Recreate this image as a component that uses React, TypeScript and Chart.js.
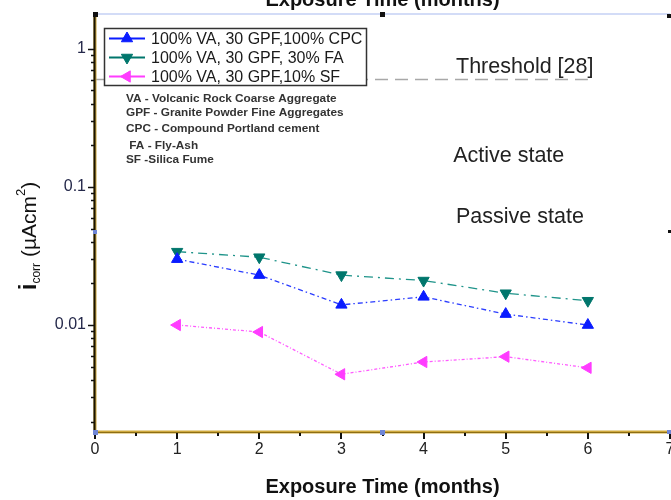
import React, { useEffect, useRef } from "react";
import { Chart, registerables } from "chart.js";

Chart.register(...registerables);

// ---- data ----
const months = [1, 2, 3, 4, 5, 6];
const cpcValues = [0.03, 0.023, 0.014, 0.016, 0.012, 0.01];
const faValues = [0.034, 0.031, 0.023, 0.021, 0.017, 0.015];
const sfValues = [0.01, 0.0089, 0.0044, 0.0054, 0.0059, 0.0049];
const seriesLabels = [
  "100% VA, 30 GPF,100% CPC",
  "100% VA, 30 GPF, 30% FA",
  "100% VA, 30 GPF,10% SF",
];
const thresholdX = [0, 6];
const thresholdValue = 0.6;
const xTickValues = [0, 1, 2, 3, 4, 5, 6, 7];
const yMajorTicks = [0.01, 0.1, 1];
const yMin = 0.00168;
const yMax = 1.76;
const xMin = 0;
const xMax = 7;
const notes = [
  "VA - Volcanic Rock Coarse Aggregate",
  "GPF - Granite Powder Fine Aggregates",
  "CPC - Compound Portland cement",
  " FA - Fly-Ash",
  "SF -Silica Fume",
];
const axisTitleX = "Exposure Time (months)";
const thresholdLabel = "Threshold [28]";
const activeLabel = "Active state";
const passiveLabel = "Passive state";

const FONT = "'Liberation Sans', Arial, Helvetica, sans-serif";

const seriesStyles = [
  { line: "#2b3dff", point: "#0a1cff", rotation: 0, dash: [5, 3, 1.5, 3] },
  { line: "#1f948a", point: "#00766c", rotation: 180, dash: [9, 5, 2, 5] },
  { line: "#ff5cff", point: "#ff3cff", rotation: 270, dash: [3, 2, 1, 2] },
];

function minorTicks(): number[] {
  const out: number[] = [];
  for (let d = -3; d <= 0; d++) {
    for (let m = 1; m <= 9; m++) {
      const v = parseFloat((m * Math.pow(10, d)).toPrecision(3));
      if (v >= yMin && v <= yMax) out.push(v);
    }
  }
  return out;
}

function triangle(ctx: CanvasRenderingContext2D, x: number, y: number, r: number, rotDeg: number) {
  let rad = (rotDeg * Math.PI) / 180;
  ctx.beginPath();
  for (let k = 0; k < 3; k++) {
    const px = x + Math.sin(rad) * r;
    const py = y - Math.cos(rad) * r;
    if (k === 0) ctx.moveTo(px, py);
    else ctx.lineTo(px, py);
    rad += (2 * Math.PI) / 3;
  }
  ctx.closePath();
  ctx.fill();
  ctx.stroke();
}

const decorPlugin = {
  id: "decor",
  afterDraw(chart: any) {
    const { ctx, chartArea } = chart;
    const xs = chart.scales.x;
    const ys = chart.scales.y;
    const { left, right, top, bottom } = chartArea;
    ctx.save();

    // top border (light blue)
    ctx.strokeStyle = "#d3dcf7";
    ctx.lineWidth = 2;
    ctx.beginPath();
    ctx.moveTo(left, top - 1);
    ctx.lineTo(right, top - 1);
    ctx.stroke();

    // bottom axis (golden)
    ctx.strokeStyle = "#cfa93c";
    ctx.lineWidth = 3;
    ctx.beginPath();
    ctx.moveTo(left, bottom);
    ctx.lineTo(right, bottom);
    ctx.stroke();
    ctx.strokeStyle = "#8d6e14";
    ctx.lineWidth = 1;
    ctx.beginPath();
    ctx.moveTo(left, bottom + 0.5);
    ctx.lineTo(right, bottom + 0.5);
    ctx.stroke();

    // left axis
    ctx.strokeStyle = "#c8a23a";
    ctx.lineWidth = 3;
    ctx.beginPath();
    ctx.moveTo(left, top);
    ctx.lineTo(left, bottom);
    ctx.stroke();
    ctx.strokeStyle = "#1a1400";
    ctx.lineWidth = 2;
    ctx.beginPath();
    ctx.moveTo(left - 0.5, top);
    ctx.lineTo(left - 0.5, bottom);
    ctx.stroke();

    // x ticks
    ctx.strokeStyle = "#111";
    ctx.lineWidth = 2;
    for (let v = xMin; v <= xMax; v += 0.5) {
      const px = Math.round(xs.getPixelForValue(v));
      const major = Number.isInteger(v);
      ctx.beginPath();
      ctx.moveTo(px, bottom + 1);
      ctx.lineTo(px, bottom + (major ? 7 : 4));
      ctx.stroke();
    }
    // x tick labels
    ctx.fillStyle = "#222";
    ctx.font = `16px ${FONT}`;
    ctx.textAlign = "center";
    ctx.textBaseline = "middle";
    xTickValues.forEach((v) => {
      ctx.fillText(String(v), xs.getPixelForValue(v), bottom + 18);
    });

    // y ticks
    ctx.strokeStyle = "#111";
    ctx.lineWidth = 1.5;
    for (const v of minorTicks()) {
      const py = Math.round(ys.getPixelForValue(v)) + 0.5;
      const major = yMajorTicks.includes(v);
      ctx.beginPath();
      ctx.moveTo(left - 1, py);
      ctx.lineTo(left - (major ? 7 : 4), py);
      ctx.stroke();
    }

    // selection handles
    const handle = (x: number, y: number, c: string, s: number) => {
      ctx.fillStyle = c;
      ctx.fillRect(Math.round(x - s / 2), Math.round(y - s / 2), s, s);
    };
    const midX = (left + right) / 2;
    const midY = (top + bottom) / 2;
    handle(left, top - 1, "#111", 5);
    handle(midX, top - 1, "#111", 5);
    handle(right - 1, top + 1, "#111", 4);
    handle(right - 1, midY + 8, "#111", 3);
    handle(left, midY + 8, "#6f86d6", 4);
    handle(left, bottom, "#6f86d6", 5);
    handle(midX, bottom, "#6f86d6", 5);
    handle(right - 1, bottom, "#6f86d6", 4);

    // legend
    const lx = 104.5, ly = 28.5, lw = 262, lh = 57;
    ctx.fillStyle = "#fff";
    ctx.fillRect(lx, ly, lw, lh);
    ctx.strokeStyle = "#333";
    ctx.lineWidth = 1.5;
    ctx.strokeRect(lx, ly, lw, lh);
    chart.data.datasets.forEach((ds: any, i: number) => {
      if (i >= seriesLabels.length) return;
      const st = seriesStyles[i];
      const ry = 38.5 + i * 19;
      ctx.strokeStyle = st.point;
      ctx.lineWidth = 1.8;
      ctx.setLineDash([]);
      ctx.beginPath();
      ctx.moveTo(109, ry);
      ctx.lineTo(145, ry);
      ctx.stroke();
      ctx.fillStyle = st.point;
      ctx.strokeStyle = st.point;
      ctx.lineWidth = 1;
      triangle(ctx, 127, ry, 6.5, st.rotation);
      ctx.fillStyle = "#1a1a1a";
      ctx.font = `16px ${FONT}`;
      ctx.textAlign = "left";
      ctx.textBaseline = "middle";
      ctx.fillText(ds.label, 151, ry + 1);
    });

    // notes
    ctx.fillStyle = "#333";
    ctx.font = `bold 11.8px ${FONT}`;
    ctx.textBaseline = "middle";
    const noteY = [99, 113, 129, 146, 160];
    notes.forEach((n, i) => ctx.fillText(n, 126, noteY[i]));

    // region labels
    ctx.fillStyle = "#222";
    ctx.font = `21.5px ${FONT}`;
    ctx.textAlign = "left";
    ctx.fillText(thresholdLabel, xs.getPixelForValue(4.395), ys.getPixelForValue(0.74));
    ctx.fillText(activeLabel, xs.getPixelForValue(4.36), ys.getPixelForValue(0.168));
    ctx.fillText(passiveLabel, xs.getPixelForValue(4.395), ys.getPixelForValue(0.0606));

    // axis titles
    ctx.fillStyle = "#111";
    ctx.font = `bold 20px ${FONT}`;
    ctx.textAlign = "center";
    ctx.textBaseline = "alphabetic";
    ctx.fillText(axisTitleX, midX, 6);
    ctx.fillText(axisTitleX, midX, 493);

    // y title rotated
    ctx.save();
    ctx.translate(36, 236);
    ctx.rotate(-Math.PI / 2);
    const parts = [
      { t: "i", f: `bold 24px ${FONT}`, dy: 0 },
      { t: "corr", f: `12px ${FONT}`, dy: 4 },
      { t: " (\u00B5Acm", f: `21px ${FONT}`, dy: 0 },
      { t: "2", f: `13px ${FONT}`, dy: -11 },
      { t: ")", f: `21px ${FONT}`, dy: 0 },
    ];
    let total = 0;
    parts.forEach((p) => {
      ctx.font = p.f;
      total += ctx.measureText(p.t).width;
    });
    let cx = -total / 2;
    ctx.textAlign = "left";
    ctx.fillStyle = "#111";
    parts.forEach((p) => {
      ctx.font = p.f;
      ctx.fillText(p.t, cx, p.dy);
      cx += ctx.measureText(p.t).width;
    });
    ctx.restore();

    ctx.restore();
  },
};

export default function App() {
  const canvasRef = useRef<HTMLCanvasElement | null>(null);

  useEffect(() => {
    if (!canvasRef.current) return;
    const toPts = (vals: number[]) => months.map((m, i) => ({ x: m, y: vals[i] }));
    const seriesData = [cpcValues, faValues, sfValues];
    const datasets: any[] = seriesData.map((vals, i) => ({
      label: seriesLabels[i],
      data: toPts(vals),
      showLine: true,
      borderColor: seriesStyles[i].line,
      borderWidth: 1.3,
      borderDash: seriesStyles[i].dash,
      pointStyle: "triangle",
      rotation: seriesStyles[i].rotation,
      pointRadius: 6.5,
      pointBackgroundColor: seriesStyles[i].point,
      pointBorderColor: seriesStyles[i].point,
      pointBorderWidth: 1,
    }));
    datasets.push({
      label: "threshold",
      data: thresholdX.map((x) => ({ x, y: thresholdValue })),
      showLine: true,
      borderColor: "#a8a8a8",
      borderWidth: 1.5,
      borderDash: [13, 7],
      pointRadius: 0,
    });

    const chart = new Chart(canvasRef.current, {
      type: "scatter",
      data: { datasets },
      options: {
        animation: false,
        responsive: true,
        maintainAspectRatio: false,
        layout: { autoPadding: false, padding: { top: 15, right: 1, left: 0, bottom: 0 } },
        plugins: {
          legend: { display: false },
          tooltip: { enabled: false },
          title: { display: false },
        },
        scales: {
          x: {
            type: "linear",
            min: xMin,
            max: xMax,
            grid: { display: false, drawTicks: false },
            border: { display: false },
            afterBuildTicks: (scale: any) => {
              scale.ticks = xTickValues.map((v) => ({ value: v }));
            },
            ticks: { display: false },
            afterFit: (scale: any) => {
              scale.height = 68;
              scale.paddingLeft = 0;
              scale.paddingRight = 0;
            },
          },
          y: {
            type: "logarithmic",
            min: yMin,
            max: yMax,
            grid: { display: false, drawTicks: false },
            border: { display: false },
            afterBuildTicks: (scale: any) => {
              scale.ticks = minorTicks().map((v) => ({ value: v }));
            },
            ticks: {
              color: "#24284a",
              font: { family: FONT, size: 16 },
              padding: 9,
              autoSkip: false,
              callback: (v: any) => (yMajorTicks.includes(v) ? String(v) : ""),
            },
            afterFit: (scale: any) => {
              scale.width = 95;
              scale.paddingTop = 0;
              scale.paddingBottom = 0;
            },
          },
        },
      },
      plugins: [decorPlugin],
    });
    return () => chart.destroy();
  }, []);

  return (
    <div
      style={{
        position: "fixed",
        left: 0,
        top: 0,
        width: 671,
        height: 500,
        background: "#fff",
      }}
    >
      <canvas ref={canvasRef} />
    </div>
  );
}
